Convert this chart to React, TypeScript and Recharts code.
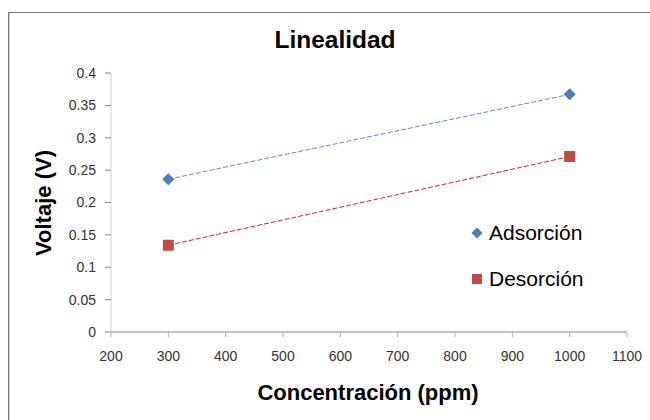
import React from 'react';
import { ScatterChart, Scatter, XAxis, YAxis } from 'recharts';

const concentracion = [300, 1000];
const adsorcion = [0.236, 0.367];
const desorcion = [0.134, 0.271];
const xTicks = [200, 300, 400, 500, 600, 700, 800, 900, 1000, 1100];
const yTicks = [0, 0.05, 0.1, 0.15, 0.2, 0.25, 0.3, 0.35, 0.4];
const seriesNames = ['Adsorción', 'Desorción'];
const title = 'Linealidad';
const xLabel = 'Concentración (ppm)';
const yLabel = 'Voltaje (V)';

const adsData = concentracion.map((x, i) => ({ x, y: adsorcion[i] }));
const desData = concentracion.map((x, i) => ({ x, y: desorcion[i] }));

const BLUE = '#4a7ebb';
const RED = '#be4b48';
const FONT = '"Liberation Sans", Arial, sans-serif';

const Diamond = (props: any) => {
  const { cx, cy } = props;
  const r = 6;
  return <path d={`M${cx},${cy - r}L${cx + r},${cy}L${cx},${cy + r}L${cx - r},${cy}Z`} fill={BLUE} />;
};

const Square = (props: any) => {
  const { cx, cy } = props;
  const s = 11;
  return <rect x={cx - s / 2} y={cy - s / 2} width={s} height={s} fill={RED} />;
};

const tickStyle = { fontSize: 14, fill: '#333', fontFamily: FONT };

export default function App() {
  return (
    <div style={{ position: 'fixed', left: 0, top: 0, width: 650, height: 420, overflow: 'hidden', background: '#fff' }}>
      <div style={{ position: 'absolute', left: 8, top: 12, width: 700, height: 500, borderLeft: '1px solid #7a7a7a', borderTop: '1px solid #7a7a7a' }}>
        <div style={{ position: 'absolute', left: 0, top: 0, width: 1, height: 500, background: '#c8c8c8' }} />
      </div>
      <div style={{ position: 'absolute', left: 0, top: 0 }}>
        <ScatterChart width={650} height={420} margin={{ top: 73, right: 23, bottom: 0, left: 0 }}>
          <XAxis
            type="number"
            dataKey="x"
            domain={[200, 1100]}
            ticks={xTicks}
            interval={0}
            height={88}
            tickSize={5}
            tickMargin={14}
            stroke="#868686"
            tickLine={{ stroke: '#b0b0b0' }}
            tick={tickStyle}
          />
          <YAxis
            type="number"
            dataKey="y"
            domain={[0, 0.4]}
            ticks={yTicks}
            interval={0}
            width={111}
            tickSize={6}
            tickMargin={9}
            axisLine={{ stroke: '#d0d0d0' }}
            tickLine={{ stroke: '#868686' }}
            tick={tickStyle}
          />
          <Scatter
            name={seriesNames[0]}
            data={adsData}
            isAnimationActive={false}
            line={{ stroke: '#5b8fd0', strokeWidth: 1, strokeDasharray: '5 2' }}
            shape={<Diamond />}
          />
          <Scatter
            name={seriesNames[1]}
            data={desData}
            isAnimationActive={false}
            line={{ stroke: '#d8222a', strokeWidth: 1, strokeDasharray: '5 2' }}
            shape={<Square />}
          />
        </ScatterChart>
      </div>
      <div style={{ position: 'absolute', left: 335, top: 40, transform: 'translate(-50%,-50%)', fontFamily: FONT, fontWeight: 'bold', fontSize: 24.5, whiteSpace: 'nowrap', color: '#000' }}>
        {title}
      </div>
      <div style={{ position: 'absolute', left: 368, top: 393, transform: 'translate(-50%,-50%)', fontFamily: FONT, fontWeight: 'bold', fontSize: 22, whiteSpace: 'nowrap', color: '#000' }}>
        {xLabel}
      </div>
      <div style={{ position: 'absolute', left: 44, top: 203, transform: 'translate(-50%,-50%) rotate(-90deg)', fontFamily: FONT, fontWeight: 'bold', fontSize: 22, whiteSpace: 'nowrap', color: '#000' }}>
        {yLabel}
      </div>
      <div style={{ position: 'absolute', left: 471, top: 220, fontFamily: FONT, fontSize: 21, color: '#000', lineHeight: '26px' }}>
        <div style={{ display: 'flex', alignItems: 'center', height: 26 }}>
          <svg width={12} height={12} style={{ marginRight: 6 }}>
            <path d="M6,0.5L11.5,6L6,11.5L0.5,6Z" fill={BLUE} />
          </svg>
          <span>{seriesNames[0]}</span>
        </div>
        <div style={{ display: 'flex', alignItems: 'center', height: 26, marginTop: 20 }}>
          <svg width={12} height={12} style={{ marginRight: 6 }}>
            <rect x={1} y={1} width={10} height={10} fill={RED} />
          </svg>
          <span>{seriesNames[1]}</span>
        </div>
      </div>
    </div>
  );
}
